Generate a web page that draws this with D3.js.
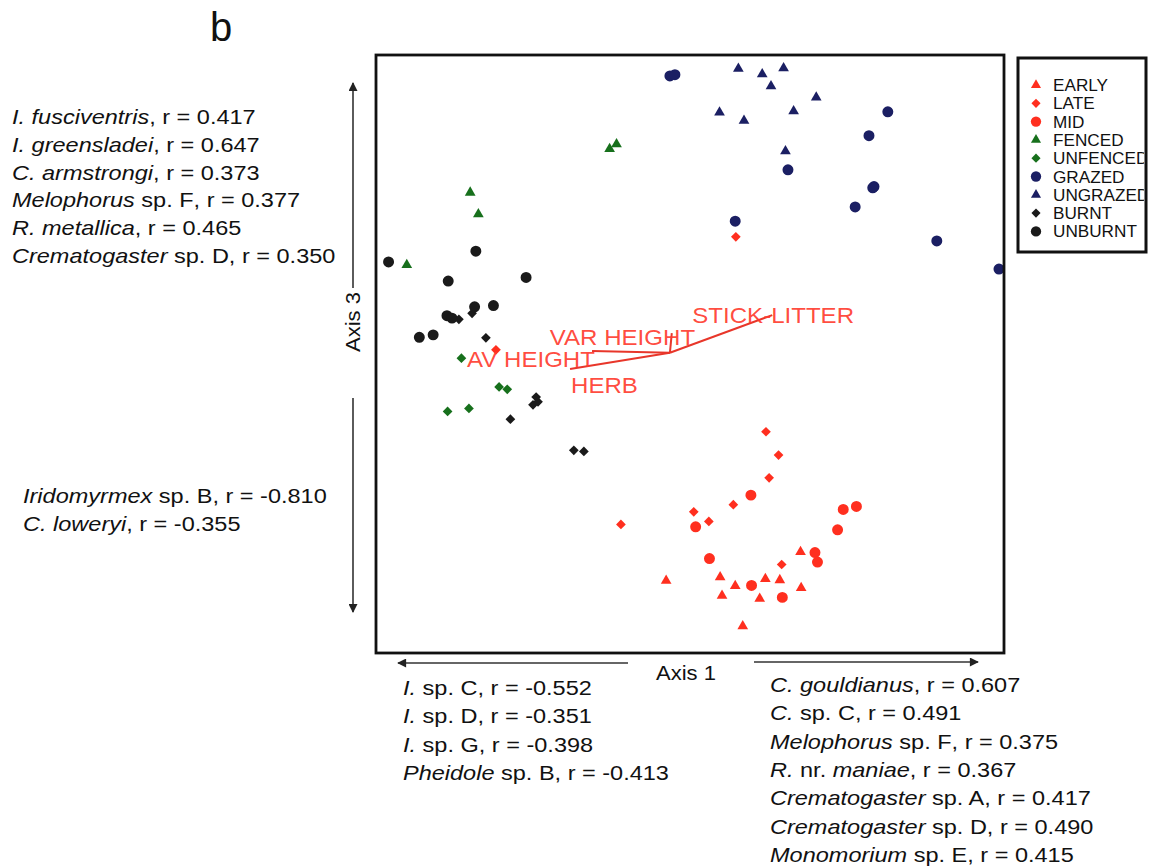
<!DOCTYPE html>
<html>
<head>
<meta charset="utf-8">
<script src="https://cdn.jsdelivr.net/npm/d3@7"></script>
<style>
  body { margin: 0; background: #fff; }
  svg { display: block; font-family: "Liberation Sans", Arial, Helvetica, sans-serif; }
</style>
</head>
<body>
<svg id="chart" width="1150" height="868"></svg>
<script>
// ordination scores (axis 1, axis 3), 0-100 units
var early = [[46.2,12.1],[54.8,12.7],[57.2,11.2],[55.1,9.6],[62.0,12.4],[64.3,12.2],[67.6,16.9],[67.7,10.9],[61.1,9.1],[58.4,4.5]];
var late = [[62.1,37.0],[64.1,33.1],[62.6,29.3],[56.9,24.8],[50.6,23.6],[53.0,22.0],[39.0,21.5],[64.6,14.8],[57.3,69.6],[19.1,50.7]];
var mid = [[59.7,26.4],[50.9,21.1],[74.4,24.0],[76.5,24.5],[73.5,20.6],[53.1,15.8],[69.9,16.8],[70.3,15.2],[59.8,11.3],[64.7,9.3]];
var fenced = [[37.2,84.3],[38.3,85.1],[15.0,77.0],[16.3,73.4],[4.9,64.9]];
var unfenced = [[13.6,49.3],[19.6,44.5],[20.9,44.1],[11.4,40.4],[14.8,40.9]];
var grazed = [[46.8,96.5],[47.6,96.7],[81.5,90.5],[78.5,86.5],[65.6,80.8],[79.3,78.0],[79.1,77.8],[76.3,74.6],[57.2,72.2],[89.3,68.9],[99.2,64.2]];
var ungrazed = [[57.7,97.7],[61.5,96.8],[64.9,97.8],[62.9,94.8],[70.1,92.9],[54.7,90.4],[58.6,89.0],[66.5,90.6],[65.2,83.9]];
var burnt = [[13.2,55.8],[15.3,56.8],[17.5,52.7],[25.5,42.8],[25.8,42.0],[25.0,41.5],[21.4,39.1],[31.5,33.9],[33.1,33.7]];
var unburnt = [[2.0,65.4],[15.9,67.2],[11.5,62.2],[23.9,62.8],[15.7,57.9],[18.7,58.1],[11.3,56.4],[12.1,56.0],[6.9,52.8],[9.1,53.2]];

var groupNames = ["EARLY","LATE","MID","FENCED","UNFENCED","GRAZED","UNGRAZED","BURNT","UNBURNT"];
var groupShapes = ["triangle","diamond","circle","triangle","diamond","circle","triangle","diamond","circle"];
var groupColors = ["#ff2f1f","#ff2f1f","#ff2f1f","#17701c","#17701c","#1b1f63","#1b1f63","#1a1a1a","#1a1a1a"];
var groupPoints = [early, late, mid, fenced, unfenced, grazed, ungrazed, burnt, unburnt];

// environmental vectors
var vecOrigin = [46.8, 50.2];
var vecNames = ["AV HEIGHT","HERB","VAR HEIGHT","STICK-LITTER"];
var vecEnds = [[34.4,50.5],[30.9,47.5],[47.1,53.5],[63.1,56.5]];

// species correlated with the axes ("*" = italic part)
var axis3Pos = [
  [["*I. fusciventris"], 0.417],
  [["*I. greensladei"], 0.647],
  [["*C. armstrongi"], 0.373],
  [["*Melophorus", " sp. F"], 0.377],
  [["*R. metallica"], 0.465],
  [["*Crematogaster", " sp. D"], 0.350]
];
var axis3Neg = [
  [["*Iridomyrmex", " sp. B"], -0.810],
  [["*C. loweryi"], -0.355]
];
var axis1Neg = [
  [["*I.", " sp. C"], -0.552],
  [["*I.", " sp. D"], -0.351],
  [["*I.", " sp. G"], -0.398],
  [["*Pheidole", " sp. B"], -0.413]
];
var axis1Pos = [
  [["*C. gouldianus"], 0.607],
  [["*C.", " sp. C"], 0.491],
  [["*Melophorus", " sp. F"], 0.375],
  [["*R.", " nr. ", "*maniae"], 0.367],
  [["*Crematogaster", " sp. A"], 0.417],
  [["*Crematogaster", " sp. D"], 0.490],
  [["*Monomorium", " sp. E"], 0.415]
];

var svg = d3.select("#chart");

var box = {left: 376, top: 55, right: 1004, bottom: 653};
var x = d3.scaleLinear().domain([0, 100]).range([box.left, box.right]);
var y = d3.scaleLinear().domain([0, 100]).range([box.bottom, box.top]);

var symbolFor = function(shape, size) {
  if (shape === "circle") return d3.symbol().type(d3.symbolCircle).size(size * 2.1)();
  if (shape === "triangle") return d3.symbol().type(d3.symbolTriangle).size(size * 1.1)();
  return d3.symbol().type(d3.symbolSquare).size(size * 1.05)();
};

// panel letter
svg.append("text").attr("x", 210).attr("y", 41)
  .attr("font-size", 40).attr("fill", "#111").text("b");

// points
groupPoints.forEach(function(pts, gi) {
  svg.append("g").selectAll("path").data(pts).enter().append("path")
    .attr("d", symbolFor(groupShapes[gi], 45))
    .attr("transform", function(d) {
      var rot = groupShapes[gi] === "diamond" ? " rotate(45)" : "";
      return "translate(" + x(d[0]) + "," + y(d[1]) + ")" + rot;
    })
    .attr("fill", groupColors[gi]);
});

// vectors
var labelPos = {
  "AV HEIGHT": {dx: -125, dy: 16},
  "HERB": {dx: 1, dy: 24},
  "VAR HEIGHT": {dx: -122, dy: 12},
  "STICK-LITTER": {dx: -80, dy: 8}
};
var vec = svg.append("g");
vecEnds.forEach(function(e, i) {
  vec.append("line")
    .attr("x1", x(vecOrigin[0])).attr("y1", y(vecOrigin[1]))
    .attr("x2", x(e[0])).attr("y2", y(e[1]))
    .attr("stroke", "#e8362a").attr("stroke-width", 2);
});
vecEnds.forEach(function(e, i) {
  var p = labelPos[vecNames[i]];
  vec.append("text")
    .attr("transform", "translate(" + (x(e[0]) + p.dx) + "," + (y(e[1]) + p.dy) + ") scale(1.12,1)")
    .attr("font-size", 21.5).attr("fill", "#ff3b2e").attr("fill-opacity", 0.92)
    .text(vecNames[i]);
});

// plot frame
svg.append("rect")
  .attr("x", box.left).attr("y", box.top)
  .attr("width", box.right - box.left).attr("height", box.bottom - box.top)
  .attr("fill", "none").attr("stroke", "#111").attr("stroke-width", 2.8);

// axis arrows
svg.append("defs").append("marker")
  .attr("id", "head").attr("viewBox", "0 0 10 10")
  .attr("refX", 9).attr("refY", 5)
  .attr("markerWidth", 11).attr("markerHeight", 9)
  .attr("markerUnits", "userSpaceOnUse")
  .attr("orient", "auto")
  .append("path").attr("d", "M0,0L10,5L0,10Z").attr("fill", "#222");

var arrows = [
  [628, 663, 398, 663], [754, 662, 978, 662],
  [353, 288, 353, 83], [353, 398, 353, 612]
];
svg.append("g").selectAll("line").data(arrows).enter().append("line")
  .attr("x1", function(d) { return d[0]; }).attr("y1", function(d) { return d[1]; })
  .attr("x2", function(d) { return d[2]; }).attr("y2", function(d) { return d[3]; })
  .attr("stroke", "#333").attr("stroke-width", 1.6)
  .attr("marker-end", "url(#head)");

svg.append("text").attr("transform", "translate(656,680) scale(1.1,1)")
  .attr("font-size", 20).attr("fill", "#111").text("Axis 1");
svg.append("text").attr("transform", "translate(360,352) rotate(-90) scale(1.1,1)")
  .attr("font-size", 20).attr("fill", "#111").text("Axis 3");

// species lists
var speciesBlock = function(list, x0, y0, step) {
  var g = svg.append("g").attr("fill", "#111");
  list.forEach(function(row, i) {
    var t = g.append("text")
      .attr("transform", "translate(" + x0 + "," + (y0 + i * step) + ") scale(1.12,1)")
      .attr("font-size", 21);
    row[0].forEach(function(s) {
      var it = s.charAt(0) === "*";
      t.append("tspan").attr("font-style", it ? "italic" : "normal").text(it ? s.slice(1) : s);
    });
    t.append("tspan").text(", r = " + row[1].toFixed(3));
  });
};
speciesBlock(axis3Pos, 12, 124, 27.8);
speciesBlock(axis3Neg, 23, 503, 27.8);
speciesBlock(axis1Neg, 403, 695, 28.3);
speciesBlock(axis1Pos, 770, 692, 28.3);

// legend
var leg = {left: 1018, top: 58, right: 1146, bottom: 252};
svg.append("clipPath").attr("id", "legclip").append("rect")
  .attr("x", leg.left).attr("y", leg.top)
  .attr("width", leg.right - leg.left - 2).attr("height", leg.bottom - leg.top);
var lg = svg.append("g").attr("clip-path", "url(#legclip)");
groupNames.forEach(function(name, i) {
  var cy = 85 + i * 18.3;
  var rot = groupShapes[i] === "diamond" ? " rotate(45)" : "";
  lg.append("path")
    .attr("d", symbolFor(groupShapes[i], 40))
    .attr("transform", "translate(1036," + cy + ")" + rot)
    .attr("fill", groupColors[i]);
  lg.append("text").attr("transform", "translate(1053," + (cy + 6) + ") scale(1.04,1)")
    .attr("font-size", 16.5).attr("fill", "#111").text(name);
});
svg.append("rect")
  .attr("x", leg.left).attr("y", leg.top)
  .attr("width", leg.right - leg.left).attr("height", leg.bottom - leg.top)
  .attr("fill", "none").attr("stroke", "#111").attr("stroke-width", 3);
</script>
</body>
</html>
